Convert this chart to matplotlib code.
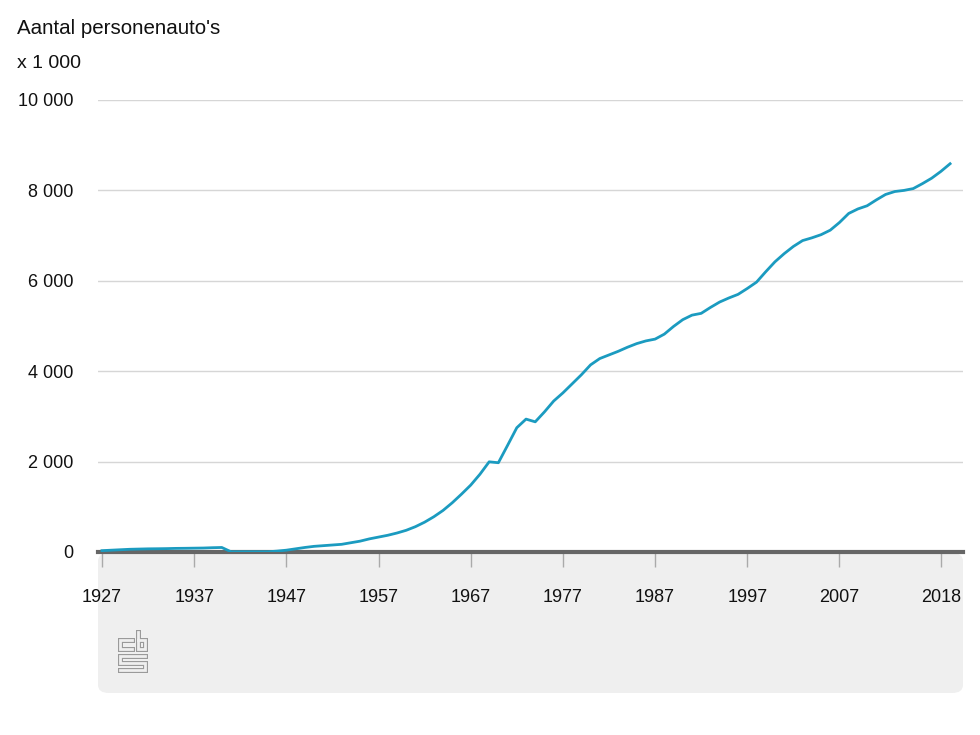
import matplotlib
matplotlib.use("Agg")
import matplotlib.pyplot as plt
from matplotlib.patches import FancyBboxPatch
from matplotlib.lines import Line2D

plt.rcParams['font.family'] = ['Liberation Sans', 'DejaVu Sans']

# ---- data (x 1 000 passenger cars) ----
values = [
    30, 40, 50, 60, 65, 70, 72, 75, 80, 82,                       # 1927-1936
    85, 88, 95, 100, 5, 5, 5, 5, 5, 20,                           # 1937-1946
    40, 70, 100, 125, 140, 155, 170, 205, 240, 290,               # 1947-1956
    330, 370, 420, 480, 560, 660, 780, 920, 1090, 1280,           # 1957-1966
    1480, 1720, 1995, 1975, 2360, 2750, 2940, 2880, 3100, 3340,   # 1967-1976
    3520, 3720, 3920, 4140, 4280, 4360, 4440, 4530, 4610, 4670,   # 1977-1986
    4710, 4820, 4990, 5140, 5240, 5280, 5410, 5530, 5620, 5700,   # 1987-1996
    5830, 5970, 6200, 6420, 6600, 6760, 6890, 6950, 7020, 7120,   # 1997-2006
    7290, 7490, 7590, 7660, 7790, 7910, 7975, 8000, 8040, 8150,   # 2007-2016
    8270, 8420, 8590,                                             # 2017-2019
]
years = list(range(1927, 1927 + len(values)))

tick_years = [1927, 1937, 1947, 1957, 1967, 1977, 1987, 1997, 2007, 2018]
y_ticks = [0, 2000, 4000, 6000, 8000, 10000]
y_labels = ["0", "2 000", "4 000", "6 000", "8 000", "10 000"]

title = "Aantal personenauto's"
unit = "x 1 000"

W, H = 980, 735
fig = plt.figure(figsize=(W / 100, H / 100), dpi=100)
fig.patch.set_facecolor("white")


def fx(px):
    return px / W


def fy(py):
    return 1 - py / H


# gray panel below the axis
panel = FancyBboxPatch((fx(98), fy(693)), fx(963) - fx(98), fy(553) - fy(693),
                       boxstyle="round,pad=0,rounding_size=0.011",
                       transform=fig.transFigure, facecolor="#efefef",
                       edgecolor="none", zorder=-5)
fig.patches.append(panel)

left, right = 98, 963
top, bottom = 100, 552
ax = fig.add_axes([fx(left), fy(bottom), fx(right) - fx(left), fy(top) - fy(bottom)])
ax.set_facecolor("none")
ax.set_xlim(1926.57, 2020.4)
ax.set_ylim(0, 10000)

for yv in y_ticks[1:]:
    ax.axhline(yv, color="#d6d6d6", lw=1.0, zorder=1)

ax.plot(years, values, color="#1b9bc0", lw=2.0, zorder=3, solid_joinstyle="round")
ax.axhline(0, color="#666666", lw=3.0, zorder=2, clip_on=False)

for s in ax.spines.values():
    s.set_visible(False)

ax.set_yticks(y_ticks)
ax.set_yticklabels(y_labels)
ax.tick_params(axis="y", length=0, pad=18, labelsize=13, labelcolor="#111111")

ax.set_xticks(tick_years)
ax.set_xticklabels([str(t) for t in tick_years])
ax.tick_params(axis="x", length=11, width=1, color="#aaaaaa", pad=16,
               labelsize=13, labelcolor="#111111", direction="out")

fig.text(fx(17), fy(28), title, fontsize=14.8, color="#111111", va="center", ha="left")
fig.text(fx(17), fy(64), unit, fontsize=14, color="#111111", va="center", ha="left")

# stylised logo in the panel
strokes = [
    [(132, 640), (120, 640), (120, 649), (132, 649)],
    [(137.5, 632), (137.5, 649), (145, 649), (145, 640), (137.5, 640)],
    [(145, 656), (120, 656), (120, 663), (145, 663), (145, 670), (120, 670)],
]
for st in strokes:
    xs = [fx(p[0]) for p in st]
    ys = [fy(p[1]) for p in st]
    fig.add_artist(Line2D(xs, ys, transform=fig.transFigure, color="#9a9a9a",
                          lw=3.6, solid_joinstyle="miter", solid_capstyle="projecting"))
    fig.add_artist(Line2D(xs, ys, transform=fig.transFigure, color="#efefef",
                          lw=2.0, solid_joinstyle="miter", solid_capstyle="projecting"))

fig.savefig("out.png", dpi=100)
